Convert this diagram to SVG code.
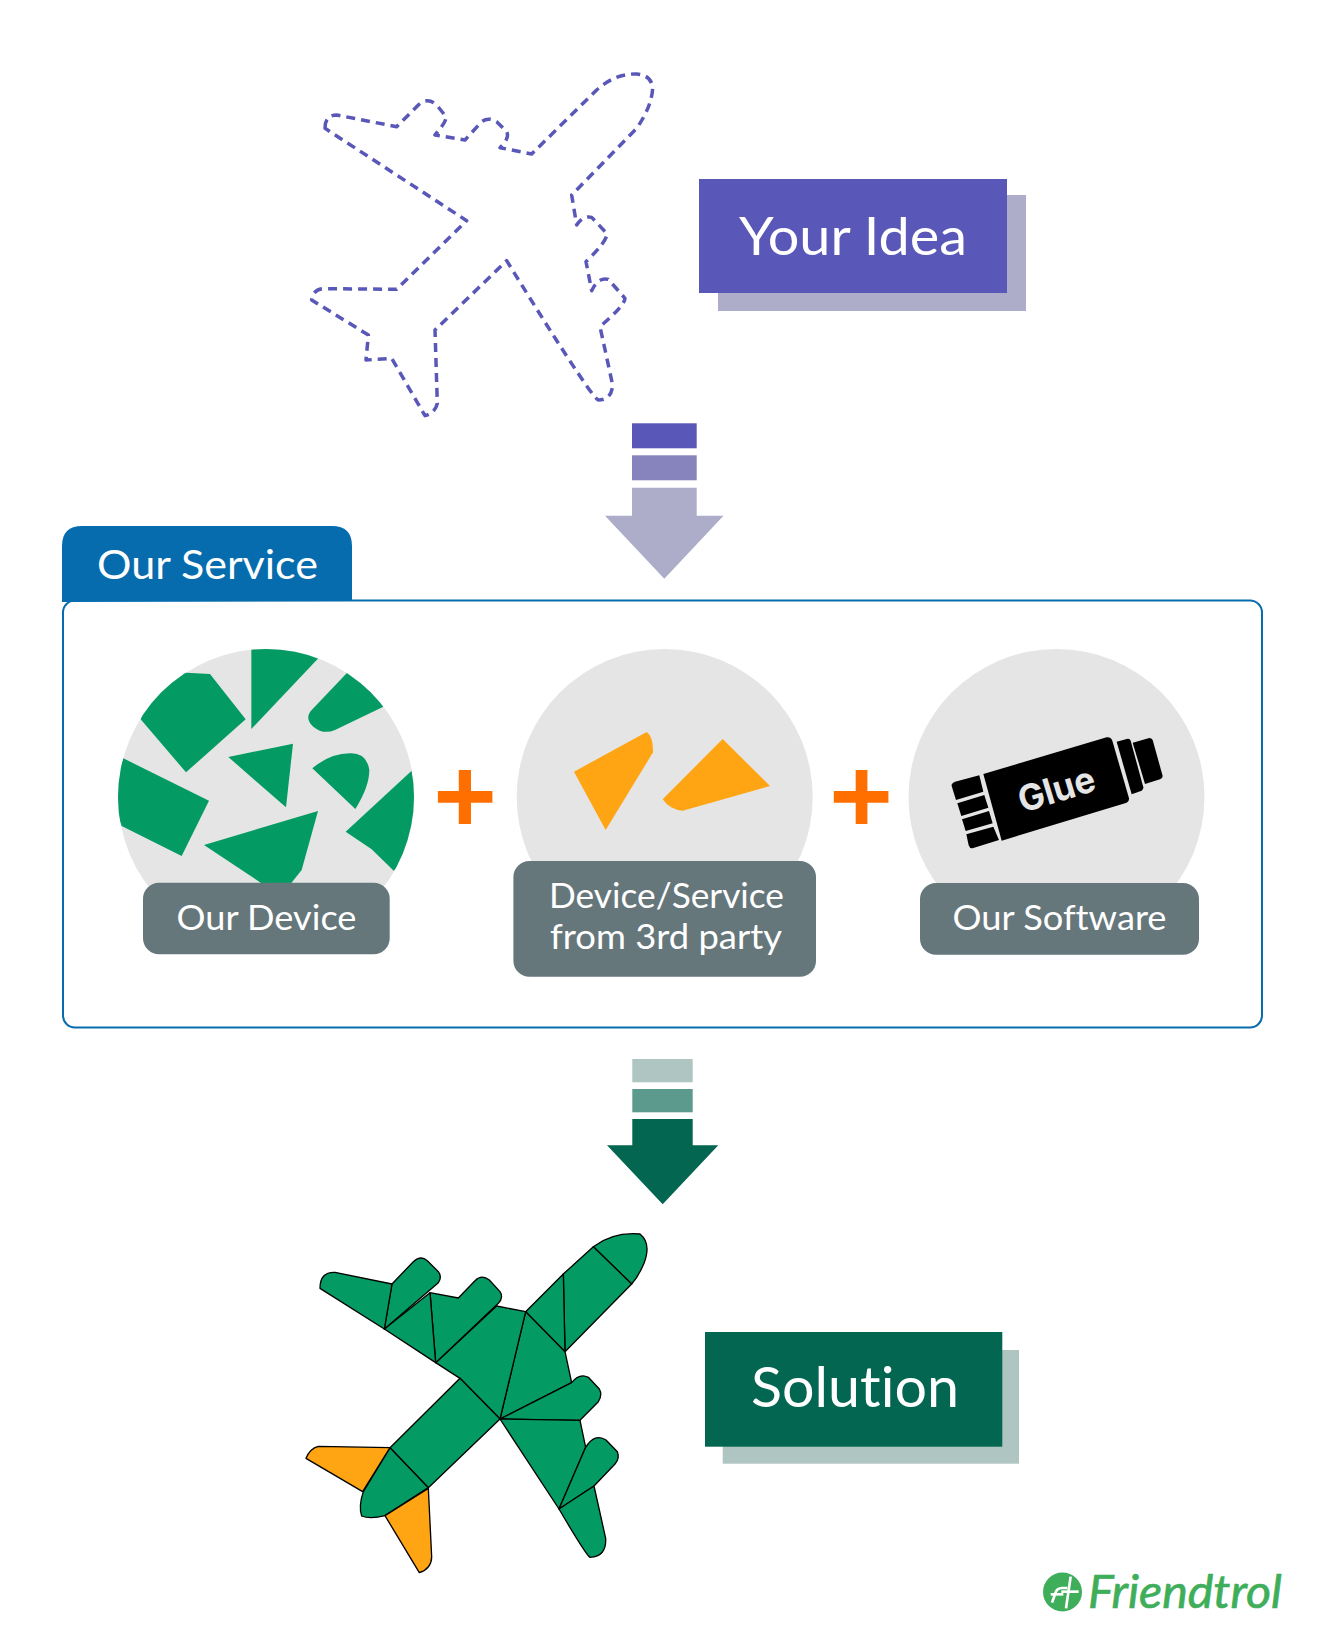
<svg xmlns="http://www.w3.org/2000/svg" width="1323" height="1652" viewBox="0 0 1323 1652">
<style>
text{font-family:Lato,"Open Sans","Liberation Sans",sans-serif;fill:#fff;font-variant-ligatures:none}
.mid{text-anchor:middle}
.disc{fill:#e5e5e5}
.shard{fill:#039b63}
.amber{fill:#ffa412}
.lab{fill:#66777b}
.lt{font-size:34px}
.plus{fill:#ff6f00}
.p{stroke:#000;stroke-width:4;stroke-linejoin:round}
.g{fill:#039b63}
.o{fill:#ffa412}
</style>
<defs>
<clipPath id="c1"><circle cx="498" cy="501" r="444"/></clipPath>
</defs>
<rect width="1323" height="1652" fill="#fff"/>

<g id="idea-plane" transform="translate(290,50) scale(0.33333)">
<path fill="none" stroke="#5957b7" stroke-width="10.500" stroke-dasharray="27,18" stroke-linejoin="round" d="M105 235 Q105 195 140 195 L320 230 L385 165 Q412 140 440 165 L468 200 Q470 215 435 255 L525 270 L575 215 Q595 200 620 215 L650 245 Q660 265 630 293 L725 312 L920 120 Q975 70 1040 72 Q1085 75 1088 115 Q1085 170 1040 235 L845 435 L860 525 Q880 495 905 502 L950 550 Q955 570 888 635 L905 722 Q925 680 955 688 L1005 745 Q1005 765 930 830 L968 1005 Q965 1050 925 1050 Q905 1045 650 632 L435 840 L442 1060 Q435 1090 405 1097 L305 925 L228 930 L235 855 L65 750 Q70 715 105 716 L320 718 L530 512 Z"/>
</g>

<g id="your-idea">
<rect x="718" y="195" width="308" height="116" fill="#aeadc9"/>
<rect x="699" y="179" width="308" height="114" fill="#5957b7"/>
<text x="853" y="255" class="mid" font-size="53" textLength="228" lengthAdjust="spacingAndGlyphs">Your Idea</text>
</g>

<g id="connectors">
<g id="arrow-top">
<rect x="632" y="423.300" width="64.700" height="25" fill="#5957b7"/>
<rect x="632" y="455.300" width="64.700" height="25" fill="#8784bd"/>
<path d="M632 487.700H696.700V515.700H723.500L664.300 578.700L605 515.700H632Z" fill="#aeadc9"/>
</g>
<g id="arrow-bottom">
<rect x="632.300" y="1059" width="60.400" height="23.300" fill="#afc5c1"/>
<rect x="632.300" y="1089" width="60.400" height="23.300" fill="#5b9a8d"/>
<path d="M632.300 1119H692.700V1145.300H718.300L662.700 1204.300L607 1145.300H632.300Z" fill="#026651"/>
</g>
</g>

<g id="our-service">
<rect x="63" y="600.500" width="1199" height="427" rx="12" fill="#fff" stroke="#066cae" stroke-width="2"/>
<path d="M62 602V546Q62 526 82 526H332Q352 526 352 546V601Z" fill="#066cae"/>
<text x="207.500" y="579" class="mid" font-size="40" textLength="221" lengthAdjust="spacingAndGlyphs">Our Service</text>
</g>

<g id="our-device">
<circle class="disc" cx="266.200" cy="797" r="148"/>
<g transform="translate(100,630) scale(0.33333)" clip-path="url(#c1)">
<path class="shard" d="M122 268L170 130L258 128L330 132L437 268L258 427Z"/>
<path class="shard" d="M454 40L670 40L655 85L454 297Z"/>
<path class="shard" d="M740 130L800 110L850 230L705 300Q670 315 640 290Q612 265 635 240Z"/>
<path class="shard" d="M385 381L579 341L558 532Z"/>
<path class="shard" d="M637 415Q690 370 750 370Q800 368 808 420Q808 470 766 537Z"/>
<path class="shard" d="M935 422L990 600L882 723L815 658L737 605Z"/>
<path class="shard" d="M70 385L327 512L245 678L65 588L30 490Z"/>
<path class="shard" d="M312 645L654 543L605 720L565 770L500 770Z"/>
</g>
<rect class="lab" x="143" y="882.700" width="246.700" height="71.600" rx="16"/>
<text class="lt mid" x="266.500" y="930" textLength="180" lengthAdjust="spacingAndGlyphs">Our Device</text>
</g>

<g id="third-party">
<circle class="disc" cx="664.700" cy="797" r="148"/>
<g transform="translate(500,630) scale(0.33333)">
<path class="amber" d="M222 425L440 306Q460 320 459 367L317 600Z"/>
<path class="amber" d="M668 327L810 468L548 542Q510 540 488 508Z"/>
</g>
<rect class="lab" x="513.400" y="861" width="302.600" height="115.700" rx="16"/>
<text class="lt mid" x="666.500" y="907.500" textLength="235" lengthAdjust="spacingAndGlyphs">Device/Service</text>
<text class="lt mid" x="666" y="949" textLength="232" lengthAdjust="spacingAndGlyphs">from 3rd party</text>
</g>

<g id="our-software">
<circle class="disc" cx="1056.500" cy="797" r="148"/>
<g transform="translate(900,700) scale(0.33333)" fill="#000">
<path d="M250 222L620 112Q632 110 637 122L687 295Q688 305 680 308L305 422Z"/>
<path d="M650 125L680 117Q690 115 692 122L730 262Q730 270 725 272L695 283Z"/>
<path d="M698 128L748 114Q755 114 758 120L788 228Q788 235 780 238L735 252Z"/>
<path d="M155 258Q153 250 165 245L238 226L250 275L168 300Z"/>
<path d="M172 310L253 285L265 323L184 348Z"/>
<path d="M186 358L267 333L278 370L197 393Z"/>
<path d="M199 403L280 380L297 420L220 444Q210 448 206 436Z"/>
</g>
<text x="1056.700" y="802" class="mid" font-size="36" font-weight="700" style="fill:#e5e5e5;font-family:Inter,Lato,sans-serif" textLength="79" lengthAdjust="spacingAndGlyphs" transform="rotate(-17 1056.700 790)">Glue</text>
<rect class="lab" x="920" y="883" width="279" height="71.700" rx="16"/>
<text class="lt mid" x="1059.500" y="930" textLength="214" lengthAdjust="spacingAndGlyphs">Our Software</text>
</g>

<g id="plus-1" class="plus">
<path d="M458.800 770H471V791H492.400V802.700H471V824H458.800V802.700H437.900V791H458.800Z"/>
</g>
<g id="plus-2" class="plus">
<path d="M855.700 770H867.400V791H888.400V802.700H867.400V824H855.700V802.700H833.800V791H855.700Z"/>
</g>

<g id="solution-plane" transform="translate(290,1210) scale(0.33333)">
<path class="p g" d="M910 110Q970 65 1050 72Q1085 100 1062 160Q1045 200 1025 222Z"/>
<path class="p g" d="M820 192L910 110L1025 222L825 425Z"/>
<path class="p g" d="M707 305L820 192L825 425Z"/>
<path class="p g" d="M707 305L825 425L845 518L630 627Z"/>
<path class="p g" d="M620 288L707 305L630 627L510 505L437 458Z"/>
<path class="p g" d="M420 248L505 264L555 212Q575 192 598 210L630 245Q642 262 625 280L437 458Z"/>
<path class="p g" d="M283 357L420 248L437 458Z"/>
<path class="p g" d="M283 357L306 222L370 155Q392 135 412 152L445 185Q457 200 445 218L283 357Z"/>
<path class="p g" d="M90 235Q90 185 135 187L306 222L283 357Z"/>
<path class="p g" d="M510 505L630 627L415 833L300 713Z"/>
<path class="p g" d="M300 713L415 833L285 917Q240 928 215 918Q205 890 220 845Z"/>
<path class="p o" d="M300 713L85 709Q60 715 48 745L218 845Z"/>
<path class="p o" d="M415 835L285 917L388 1088Q425 1075 425 1040Z"/>
<path class="p g" d="M630 627L845 518Q868 488 895 502L928 537Q938 555 925 575L870 631Z"/>
<path class="p g" d="M630 627L870 631L887 712L807 897Z"/>
<path class="p g" d="M807 897L887 712Q915 668 948 690L982 725Q990 745 975 762L912 828Z"/>
<path class="p g" d="M807 897L912 828L947 985Q950 1040 900 1042Q888 1035 807 897Z"/>
</g>

<g id="solution">
<rect x="722.700" y="1350" width="296.300" height="113.700" fill="#afc5c1"/>
<rect x="705" y="1332" width="297.300" height="114.700" fill="#026651"/>
<text x="855" y="1407" class="mid" font-size="57" textLength="208" lengthAdjust="spacingAndGlyphs">Solution</text>
</g>

<g id="logo">
<circle cx="1062.500" cy="1592" r="19.500" fill="#3fae5a"/>
<g transform="translate(1030,1560) scale(0.33333)" fill="none" stroke="#fff" stroke-width="8">
<path d="M66 128L76 100Q80 84 97 84H112"/>
<path d="M62 103H100"/>
<path d="M122 50L108 145"/>
<path d="M94 95H146"/>
</g>
<text x="1088" y="1608" font-size="46" font-style="italic" style="fill:#3fae5a;stroke:#3fae5a;stroke-width:.7" textLength="194" lengthAdjust="spacingAndGlyphs" transform="skewX(0)">Friendtrol</text>
</g>
</svg>
